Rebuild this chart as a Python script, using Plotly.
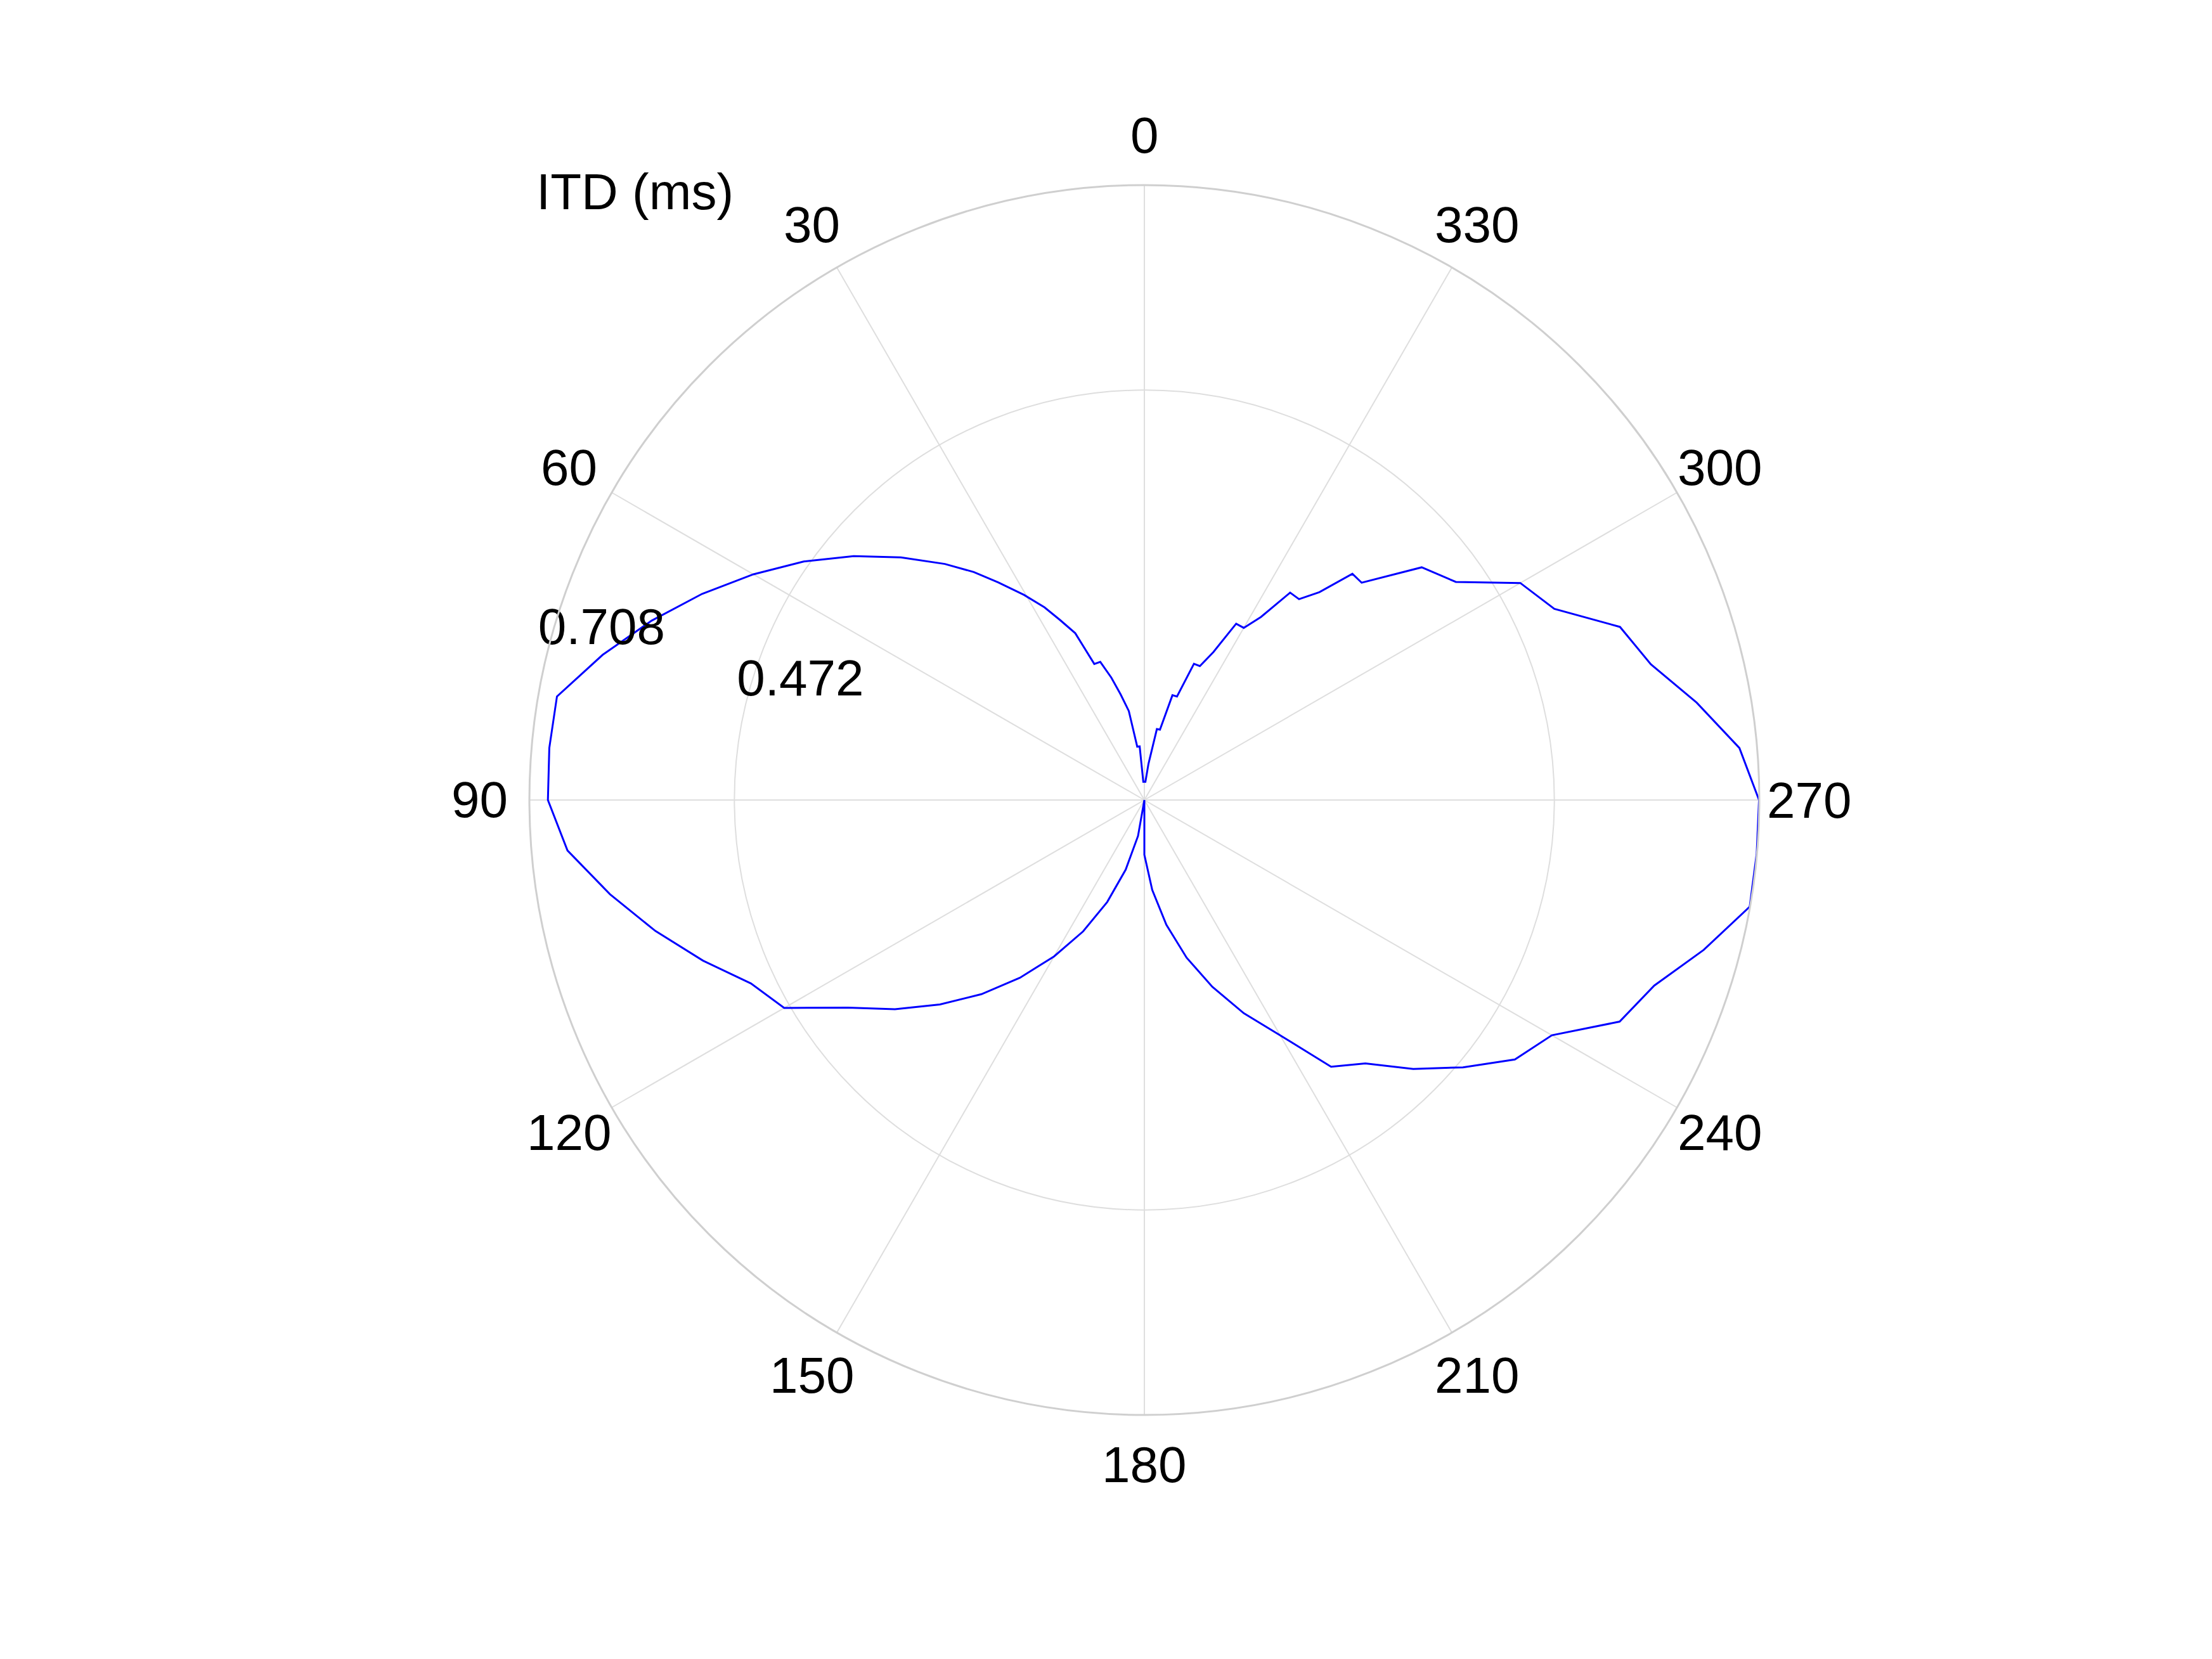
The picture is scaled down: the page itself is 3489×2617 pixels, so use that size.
import math
import plotly.graph_objects as go

# ---- data ----
azimuth_deg = [0, 3.3, 5.0, 7.6, 9.9, 12.7, 15.1, 17.7, 20.2, 22.5, 25.1, 27.4, 30.4, 33.9,
               36.8, 40.2, 45.1, 50, 55, 60, 65, 70, 75, 80, 85, 90, 95, 100, 105, 110,
               115, 120, 125, 130, 135, 140, 145, 150, 155, 160, 165, 170, 175,
               180, 185, 190, 195, 200, 205, 210, 215, 220, 225, 230, 235, 240, 245,
               250, 255, 260, 265, 270, 275, 280, 285, 290, 295, 300, 305, 310,
               315, 317.4, 319.9, 322.4, 324.9, 327.5, 330, 332.5, 335, 337.5, 340,
               342.5, 345, 347.5, 350, 353.5, 356.7, 360]
itd_ms = [0.021, 0.021, 0.062, 0.062, 0.104, 0.125, 0.146, 0.167, 0.167, 0.208, 0.229, 0.250, 0.274, 0.302,
          0.328, 0.356, 0.396, 0.437, 0.479, 0.520, 0.562, 0.604, 0.646, 0.687, 0.688, 0.687, 0.667, 0.625, 0.583, 0.541,
          0.500, 0.479, 0.417, 0.375, 0.333, 0.292, 0.250, 0.208, 0.167, 0.125, 0.083, 0.042, 0.0,
          0.063, 0.104, 0.146, 0.188, 0.229, 0.271, 0.313, 0.375, 0.396, 0.438, 0.479, 0.521, 0.542, 0.604,
          0.625, 0.667, 0.708, 0.708, 0.708, 0.688, 0.646, 0.604, 0.583, 0.521, 0.500, 0.438, 0.417,
          0.354, 0.354, 0.313, 0.292, 0.292, 0.250, 0.229, 0.229, 0.188, 0.167, 0.167,
          0.125, 0.125, 0.083, 0.083, 0.042, 0.021, 0.021]

angle_ticks = [0, 30, 60, 90, 120, 150, 180, 210, 240, 270, 300, 330]
angle_labels = ["0", "30", "60", "90", "120", "150", "180", "210", "240", "270", "300", "330"]
ring_values = [0.47222, 0.70833]
ring_labels = ["0.472", "0.708"]
r_max = 0.70833
axis_title = "ITD (ms)"

# ---- style / geometry ----
W, H = 3489, 2617
PAGE_OFFSET = 8          # default body margin of the html page
FONT = "Liberation Sans, Arial, Helvetica, sans-serif"
FS = 80
GRID = "#dedede"
cx, cy, R = 1805.0 - PAGE_OFFSET, 1262.0 - PAGE_OFFSET, 970.0
LABEL_FACTOR = 1.0805    # angular labels centred at this fraction of the outer radius

fig = go.Figure()

fig.add_trace(go.Scatterpolar(
    r=itd_ms, theta=azimuth_deg, mode="lines",
    line=dict(color="#0000ff", width=3),
    showlegend=False, hoverinfo="skip"))

# radial ring labels
fig.add_trace(go.Scatterpolar(
    r=[ring_values[0] * 0.8867, ring_values[1] * 0.9242], theta=[71.17, 72.74], mode="text",
    text=ring_labels, textposition="middle center",
    textfont=dict(family=FONT, size=FS, color="black"),
    cliponaxis=False, showlegend=False, hoverinfo="skip"))

# angular tick labels, placed as in MATLAB's polar()
annotations = []
for ang, lab in zip(angle_ticks, angle_labels):
    t = math.radians(ang)
    px = cx - R * LABEL_FACTOR * math.sin(t)
    py = cy - R * LABEL_FACTOR * math.cos(t)
    annotations.append(dict(x=px / W, y=1 - py / H, xref="paper", yref="paper",
                            text=lab, showarrow=False, xanchor="center", yanchor="middle",
                            font=dict(family=FONT, size=FS, color="black")))
# axis title
annotations.append(dict(x=(844.0 - PAGE_OFFSET) / W, y=1 - (303.0 - PAGE_OFFSET) / H,
                        xref="paper", yref="paper", text=axis_title, showarrow=False,
                        xanchor="left", yanchor="middle",
                        font=dict(family=FONT, size=FS, color="black")))

fig.update_layout(
    width=W, height=H,
    margin=dict(l=0, r=0, t=0, b=0),
    paper_bgcolor="white",
    font=dict(family=FONT, size=FS, color="black"),
    annotations=annotations,
    polar=dict(
        domain=dict(x=[(cx - R) / W, (cx + R) / W], y=[1 - (cy + R) / H, 1 - (cy - R) / H]),
        bgcolor="white",
        radialaxis=dict(range=[0, r_max], tickvals=ring_values, showticklabels=False,
                        ticks="", showline=False, gridcolor=GRID, gridwidth=2),
        angularaxis=dict(rotation=90, direction="counterclockwise", tickvals=angle_ticks,
                         showticklabels=False, ticks="", gridcolor=GRID, gridwidth=2,
                         showline=True, linecolor="#cfcfcf", linewidth=3),
    ),
)

fig.write_html("out.html")
